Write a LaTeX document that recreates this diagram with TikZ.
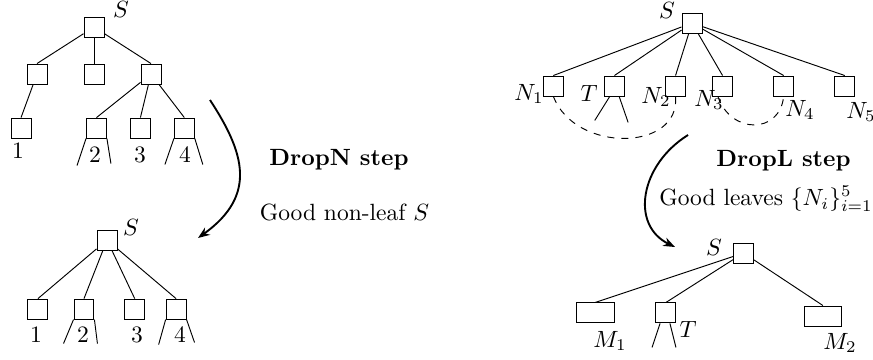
\documentclass[tikz,border=0pt]{standalone}
\usetikzlibrary{arrows.meta}
\begin{document}
\begin{tikzpicture}[
    x=0.4255pt, y=-0.4255pt,
    box/.style={draw, minimum size=8.5pt, inner sep=0pt},
    wbox/.style={box, minimum width=16pt},
    lbl/.style={inner sep=0pt},
    txt/.style={inner sep=1pt},
    every child node/.style={box},
    child anchor=north,
    steparrow/.style={thick, -{Stealth[length=5pt, width=3.8pt]}}]
  \useasboundingbox (0,0) rectangle (873,360);

  % tree before DropN
  \begin{scope}[level distance=20pt,
      level 1/.style={sibling distance=24.25pt},
      level 2/.style={sibling distance=18.7pt, level distance=23pt}]
    \node[box] (a) at (94,27) {}
      child {node (a1) {}
        child {node[xshift=-6.8pt] (a11) {}}}
      child {node (a2) {}}
      child {node (a3) {}
        child {node[xshift=-4.5pt] (a31) {}}
        child {node[xshift=-4.5pt] (a32) {}}
        child {node[xshift=-4.5pt] (a33) {}}};
  \end{scope}
  \draw (a31.south west) -- +(-9,27) (a31.south east) -- +(4,25);
  \draw (a33.south west) -- +(-9,26) (a33.south east) -- +(8,26);
  \node[lbl] (sa) at (121,9) {$S$};
  \foreach \t/\x/\y in {1/18/151, 2/95/155, 3/140/155, 4/185/155}
    \node[lbl] (na\t) at (\x,\y) {\t};

  % tree after DropN
  \begin{scope}[level distance=29.4pt, sibling distance=19.6pt]
    \node[box] (b) at (107,240) {}
      child {node (b1) {}}
      child {node (b2) {}}
      child {node[xshift=2pt] (b3) {}}
      child {node (b4) {}};
  \end{scope}
  \draw (b2.south west) -- +(-10,24) (b2.south east) -- +(3,24);
  \draw (b4.south west) -- +(-7,25) (b4.south east) -- +(8,23);
  \node[lbl] (sb) at (131,227) {$S$};
  \foreach \t/\x in {1/36, 2/83, 3/137, 4/180}
    \node[lbl] (nb\t) at (\x,335) {\t};

  % tree before DropL
  \begin{scope}[level distance=26.8pt, sibling distance=26pt]
    \node[box] (c) at (692,23) {}
      child {node[xshift=6pt] (n1) {}}
      child {node[xshift=6pt] (tc) {}}
      child {node[xshift=6pt] (n2) {}}
      child {node (n3) {}}
      child {node (n4) {}}
      child {node (n5) {}};
  \end{scope}
  \draw ([xshift=-2pt]tc.south) -- +(-15,24) ([xshift=2pt]tc.south) -- +(9,26);
  \draw[dashed] (n1.south) .. controls +(22,57) and +(5,55) .. (n2.south);
  \draw[dashed] ([xshift=-2pt]n3.south) .. controls +(13,38) and +(-4,38) .. (n4.south);
  \node[lbl] (sc) at (667,10) {$S$};
  \node[lbl] (ln1) at (529,94) {$N_1$};
  \node[lbl] (ltc) at (589,93) {$T$};
  \node[lbl] (ln2) at (656,97) {$N_2$};
  \node[lbl] (ln3) at (709,100) {$N_3$};
  \node[lbl] (ln4) at (800,110) {$N_4$};
  \node[lbl] (ln5) at (861,112) {$N_5$};

  % tree after DropL
  \begin{scope}[level distance=25.5pt, sibling distance=32.3pt]
    \node[box] (d) at (743.5,253) {}
      child {node[wbox, xshift=-30.8pt] (m1) {}}
      child {node[xshift=-33pt] (td) {}}
      child {node[wbox, xshift=1.5pt, yshift=-1.3pt] (m2) {}};
  \end{scope}
  \draw ([xshift=-2.5pt]td.south) -- +(-8,24) ([xshift=1.7pt]td.south) -- +(6,24);
  \node[lbl] (sd) at (714,247) {$S$};
  \node[lbl] (lm1) at (610,341) {$M_1$};
  \node[lbl] (ltd) at (688,329) {$T$};
  \node[lbl] (lm2) at (840,343) {$M_2$};

  % steps
  \node[txt, font=\bfseries] (dropn) at (339,160) {DropN step};
  \node[txt] (goodn) at (344.5,212) {Good non-leaf $S$};
  \coordinate (dnfrom) at (210,100);
  \coordinate (dnto) at (198,238);
  \draw[steparrow] (dnfrom) .. controls +(34,52) and +(60,-43) .. (dnto);
  \node[txt, font=\bfseries] (dropl) at (783.5,161) {DropL step};
  \node[txt] (goodl) at (766,199) {Good leaves $\{N_i\}_{i=1}^5$};
  \coordinate (dlfrom) at (688,135);
  \coordinate (dlto) at (675,247);
  \draw[steparrow] (dlfrom) .. controls +(-48,30) and +(-45,-22) .. (dlto);
\end{tikzpicture}
\end{document}
